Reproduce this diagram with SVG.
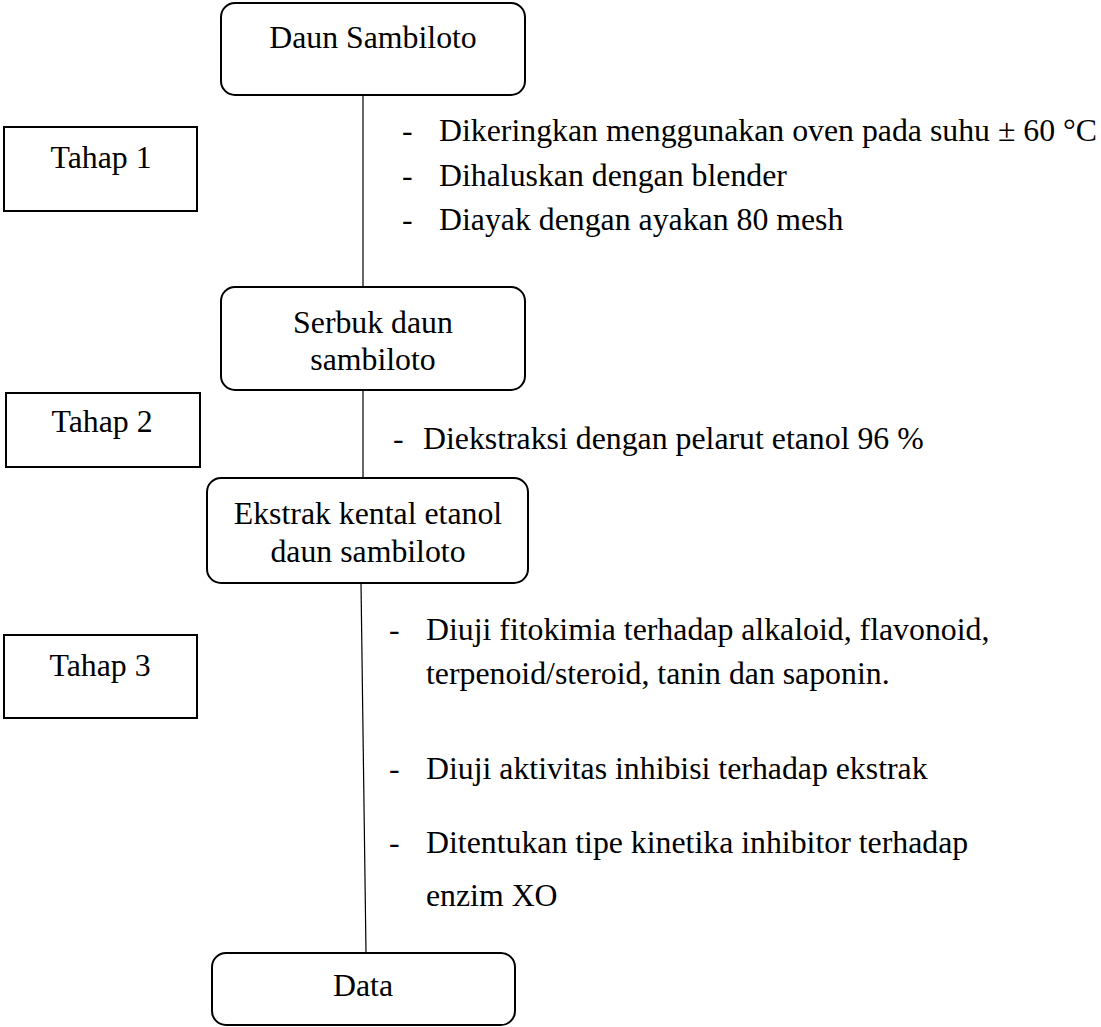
<svg xmlns="http://www.w3.org/2000/svg" width="1101" height="1027" viewBox="0 0 1101 1027">
<style>
.node{fill:#fff;stroke:#000;stroke-width:2}
.tahap{fill:#fff;stroke:#000;stroke-width:2}
.conn{stroke:#000;stroke-width:1.2;fill:none}
text{font-family:"Liberation Serif","Times New Roman",serif;font-size:31.8px;fill:#000}
.c{text-anchor:middle}
</style>
<rect width="1101" height="1027" fill="#fff"/>
<g id="connectors">
<line class="conn" x1="363" y1="96" x2="363" y2="286"/>
<line class="conn" x1="363" y1="390" x2="363" y2="478"/>
<line class="conn" x1="361" y1="583" x2="366" y2="953"/>
</g>
<g id="n-daun">
<rect class="node" x="221" y="3" width="304" height="92" rx="14"/>
<text class="c" x="373" y="48">Daun Sambiloto</text>
</g>
<g id="n-serbuk">
<rect class="node" x="221" y="287" width="304" height="103" rx="14"/>
<text class="c" x="373" y="333">Serbuk daun</text>
<text class="c" x="373" y="370">sambiloto</text>
</g>
<g id="n-ekstrak">
<rect class="node" x="207" y="478" width="321" height="105" rx="14"/>
<text class="c" x="368" y="524">Ekstrak kental etanol</text>
<text class="c" x="368" y="562">daun sambiloto</text>
</g>
<g id="n-data">
<rect class="node" x="212" y="953" width="303" height="72" rx="14"/>
<text class="c" x="363" y="996">Data</text>
</g>
<g id="n-tahap1">
<rect class="tahap" x="4" y="127" width="193" height="84"/>
<text class="c" x="101" y="168">Tahap 1</text>
</g>
<g id="n-tahap2">
<rect class="tahap" x="6" y="393" width="194" height="74"/>
<text class="c" x="102" y="432">Tahap 2</text>
</g>
<g id="n-tahap3">
<rect class="tahap" x="4" y="635" width="193" height="83"/>
<text class="c" x="100" y="676">Tahap 3</text>
</g>
<g id="notes1">
<text x="402" y="141">-</text><text x="439" y="141">Dikeringkan menggunakan oven pada suhu ± 60 °C</text>
<text x="402" y="186">-</text><text x="439" y="186">Dihaluskan dengan blender</text>
<text x="402" y="230">-</text><text x="439" y="230">Diayak dengan ayakan 80 mesh</text>
</g>
<g id="notes2">
<text x="393" y="449">-</text><text x="423" y="449">Diekstraksi dengan pelarut etanol 96 %</text>
</g>
<g id="notes3">
<text x="389" y="640">-</text><text x="426" y="640">Diuji fitokimia terhadap alkaloid, flavonoid,</text>
<text x="426" y="684">terpenoid/steroid, tanin dan saponin.</text>
<text x="389" y="779">-</text><text x="426" y="779">Diuji aktivitas inhibisi terhadap ekstrak</text>
<text x="389" y="853">-</text><text x="426" y="853">Ditentukan tipe kinetika inhibitor terhadap</text>
<text x="426" y="906">enzim XO</text>
</g>
</svg>
